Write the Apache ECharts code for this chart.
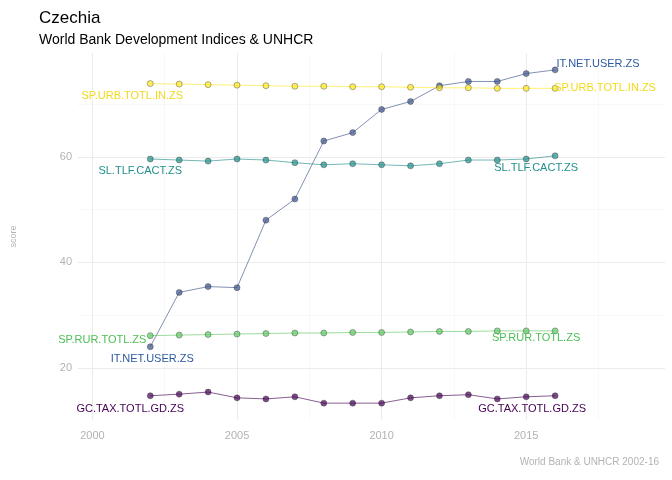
<!DOCTYPE html>
<html>
<head>
<meta charset="utf-8">
<script src="https://cdn.jsdelivr.net/npm/echarts@6/dist/echarts.min.js"></script>
<style>html,body{margin:0;padding:0;background:#fff}#main{width:672px;height:480px}</style>
</head>
<body>
<div id="main"></div>
<script>
var years = [2002,2003,2004,2005,2006,2007,2008,2009,2010,2011,2012,2013,2014,2015,2016];
var itNetUser = [24.0,34.3,35.4,35.2,48.0,52.0,63.0,64.6,69.0,70.5,73.5,74.3,74.3,75.8,76.5];
var spUrb = [73.9,73.8,73.7,73.6,73.5,73.4,73.4,73.3,73.3,73.2,73.1,73.1,73.0,73.0,73.0];
var slTlf = [59.6,59.4,59.2,59.6,59.4,58.9,58.5,58.7,58.5,58.3,58.7,59.4,59.4,59.6,60.2];
var spRur = [26.1,26.2,26.3,26.4,26.5,26.6,26.6,26.7,26.7,26.8,26.9,26.9,27.0,27.0,27.0];
var gcTax = [14.7,15.0,15.4,14.3,14.1,14.5,13.3,13.3,13.3,14.3,14.7,14.9,14.1,14.5,14.7];
var xMajor = [2000,2005,2010,2015];
var xMinor = [2002.5,2007.5,2012.5,2017.5];
var yMajor = [20,40,60];
var yMinor = [30,50,70];

var font = 'Liberation Sans, Arial, sans-serif';
var myChart = echarts.init(document.getElementById('main'));

// 每条线：名称、数据、颜色、文字颜色、首尾标签偏移
var lines = [
  {name:'IT.NET.USER.ZS', data:itNetUser, color:'#3b528b', text:'#2c5aa0', first:[2,12], last:[43,-6]},
  {name:'SP.URB.TOTL.IN.ZS', data:spUrb, color:'#fde725', text:'#f2d91a', first:[-18,12], last:[50,0]},
  {name:'SL.TLF.CACT.ZS', data:slTlf, color:'#21908c', text:'#21908c', first:[-10,12], last:[-19,12]},
  {name:'SP.RUR.TOTL.ZS', data:spRur, color:'#5ec962', text:'#4cbf55', first:[-48,4], last:[-19,7]},
  {name:'GC.TAX.TOTL.GD.ZS', data:gcTax, color:'#440154', text:'#440154', first:[-20,13], last:[-23,13]}
];

function gridLines(){
  var d = [];
  xMajor.forEach(function(v){ d.push({xAxis:v, lineStyle:{color:'#ebebeb', width:1, type:'solid'}}); });
  xMinor.forEach(function(v){ d.push({xAxis:v, lineStyle:{color:'#f3f3f3', width:0.6, type:'solid'}}); });
  yMajor.forEach(function(v){ d.push({yAxis:v, lineStyle:{color:'#ebebeb', width:1, type:'solid'}}); });
  yMinor.forEach(function(v){ d.push({yAxis:v, lineStyle:{color:'#f3f3f3', width:0.6, type:'solid'}}); });
  return d;
}

var series = [{
  type:'line', data:[], silent:true, z:0, zlevel:0,
  markLine:{silent:true, symbol:'none', label:{show:false}, animation:false, z:0, data:gridLines()}
}];
lines.forEach(function(l){
  series.push({
    type:'line', name:l.name,
    data:years.map(function(y,i){
      var p = {value:[y, l.data[i]]};
      if (i === 0 || i === years.length-1) {
        var off = i === 0 ? l.first : l.last;
        p.label = {show:true, formatter:l.name, position:'inside', offset:off,
          color:l.text, fontSize:11, fontFamily:font};
      }
      return p;
    }),
    symbol:'circle', symbolSize:6,
    lineStyle:{color:l.color, width:0.8, opacity:0.8},
    itemStyle:{color:echarts.color.modifyAlpha(l.color,0.7), borderColor:echarts.color.modifyAlpha('#222',0.6), borderWidth:0.6},
    label:{show:false},
    z:5
  });
});

var option = {
  animation:false,
  title:[
    {text:'Czechia', left:34, top:5, textStyle:{fontSize:17, fontWeight:'normal', color:'#000', fontFamily:font}},
    {text:'World Bank Development Indices & UNHCR', left:34, top:28, textStyle:{fontSize:14, fontWeight:'normal', color:'#000', fontFamily:font}},
    {text:'World Bank & UNHCR 2002-16', right:8, bottom:8, textStyle:{fontSize:10, fontWeight:'normal', color:'#b3b3b3', fontFamily:font}}
  ],
  grid:{left:78, right:7, top:53, bottom:60},
  xAxis:{
    type:'value', min:1999.5, max:2019.8,
    axisLine:{show:false}, axisTick:{show:false}, splitLine:{show:false},
    axisLabel:{customValues:xMajor, formatter:function(v){return String(v);}, color:'#b3b3b3', fontSize:11, fontFamily:font, margin:10}
  },
  yAxis:{
    type:'value', min:10.1, max:79.7, name:'score', nameLocation:'middle', nameGap:60,
    nameTextStyle:{color:'#b3b3b3', fontSize:9, fontFamily:font},
    axisLine:{show:false}, axisTick:{show:false}, splitLine:{show:false},
    axisLabel:{customValues:yMajor, color:'#b3b3b3', fontSize:11, fontFamily:font, margin:6}
  },
  series:series
};
myChart.setOption(option);
</script>
</body>
</html>
